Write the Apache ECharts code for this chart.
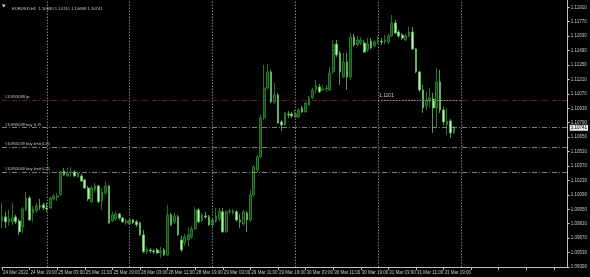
<!DOCTYPE html>
<html><head><meta charset="utf-8">
<script src="https://cdn.jsdelivr.net/npm/echarts@6/dist/echarts.min.js"></script>
<style>html,body{margin:0;padding:0;background:#000;}#c{width:590px;height:277px;}</style>
</head><body><div id="c"></div>
<script>
const titleText = "EURUSD,H1  1.10690 1.10741 1.10688 1.10741";
const tickLabels = ["24 Mar 2022","24 Mar 19:00","25 Mar 03:00","25 Mar 11:00","25 Mar 19:00","28 Mar 03:00","28 Mar 11:00","28 Mar 19:00","29 Mar 03:00","29 Mar 11:00","29 Mar 19:00","30 Mar 03:00","30 Mar 11:00","30 Mar 19:00","31 Mar 03:00","31 Mar 11:00","31 Mar 19:00"];
const priceTicks = [1.09390,1.09530,1.09670,1.09810,1.09950,1.10090,1.10230,1.10370,1.10510,1.10650,1.10790,1.10930,1.11070,1.11210,1.11350,1.11490,1.11630,1.11770,1.11910];
const opens = [1.09837,1.09876,1.09828,1.09828,1.09876,1.09837,1.09779,1.09944,1.10060,1.09915,
1.09934,1.09983,1.09993,1.09963,1.09963,1.10051,1.10070,1.10090,1.10322,1.10274,
1.10303,1.10313,1.10264,1.10274,1.10235,1.10157,1.10022,1.10138,1.10177,1.10031,
1.10109,1.10177,1.09837,1.09857,1.09905,1.09866,1.09818,1.09808,1.09847,1.09828,
1.09818,1.09702,1.09537,1.09556,1.09546,1.09556,1.09527,1.09556,1.09507,1.09896,
1.09828,1.09876,1.09653,1.09624,1.09653,1.09682,1.09760,1.09944,1.09837,1.09886,
1.09876,1.09799,1.09837,1.09857,1.09925,1.09731,1.09925,1.09915,1.09925,1.09847,
1.09808,1.09915,1.09847,1.10090,1.10332,1.10458,1.10837,1.11127,1.11283,1.10992,
1.11060,1.10798,1.10769,1.10875,1.10875,1.10846,1.10846,1.10934,1.10895,1.10963,
1.11030,1.11108,1.11137,1.11108,1.11118,1.11108,1.11283,1.11554,1.11467,1.11234,
1.11380,1.11234,1.11622,1.11545,1.11564,1.11564,1.11496,1.11583,1.11535,1.11574,
1.11583,1.11574,1.11574,1.11632,1.11758,1.11671,1.11641,1.11593,1.11632,1.11671,
1.11506,1.11283,1.11108,1.10953,1.11001,1.11021,1.10934,1.11186,1.10914,1.10769,
1.10807,1.10691];
const closes = [1.09876,1.09828,1.09857,1.09866,1.09828,1.09731,1.09954,1.10060,1.09847,1.09954,
1.09983,1.09973,1.09963,1.09954,1.10060,1.10080,1.10080,1.10313,1.10284,1.10303,
1.10313,1.10274,1.10303,1.10225,1.10157,1.10051,1.10157,1.10177,1.10022,1.10119,
1.10177,1.09818,1.09896,1.09905,1.09866,1.09828,1.09837,1.09847,1.09818,1.09799,
1.09702,1.09537,1.09566,1.09546,1.09537,1.09527,1.09546,1.09507,1.09896,1.09799,
1.09886,1.09702,1.09556,1.09682,1.09702,1.09760,1.09944,1.09828,1.09896,1.09876,
1.09799,1.09847,1.09886,1.09934,1.09731,1.09925,1.09934,1.09934,1.09847,1.09828,
1.09925,1.09847,1.10090,1.10361,1.10458,1.10837,1.11127,1.11283,1.10992,1.11060,
1.10788,1.10769,1.10885,1.10866,1.10856,1.10875,1.10914,1.10895,1.10982,1.11030,
1.11108,1.11147,1.11089,1.11118,1.11127,1.11273,1.11545,1.11448,1.11283,1.11380,
1.11234,1.11622,1.11545,1.11593,1.11593,1.11477,1.11554,1.11515,1.11574,1.11583,
1.11574,1.11593,1.11632,1.11758,1.11661,1.11632,1.11612,1.11632,1.11671,1.11506,
1.11283,1.11108,1.10934,1.11011,1.11030,1.10934,1.11186,1.10914,1.10798,1.10807,
1.10691,1.10741];
const lows = [1.09769,1.09769,1.09789,1.09799,1.09808,1.09702,1.09721,1.09934,1.09837,1.09828,
1.09915,1.09944,1.09944,1.09925,1.09954,1.10031,1.10031,1.10080,1.10274,1.10264,
1.10264,1.10264,1.10254,1.10216,1.10148,1.10031,1.10012,1.10109,1.10012,1.09944,
1.10090,1.09808,1.09828,1.09837,1.09847,1.09818,1.09799,1.09799,1.09808,1.09779,
1.09692,1.09527,1.09517,1.09527,1.09517,1.09517,1.09479,1.09498,1.09498,1.09789,
1.09808,1.09692,1.09537,1.09595,1.09585,1.09663,1.09750,1.09818,1.09828,1.09857,
1.09789,1.09779,1.09818,1.09837,1.09721,1.09721,1.09905,1.09896,1.09828,1.09769,
1.09789,1.09731,1.09828,1.10070,1.10313,1.10448,1.10817,1.11108,1.10982,1.10972,
1.10778,1.10710,1.10759,1.10837,1.10837,1.10837,1.10837,1.10885,1.10885,1.10953,
1.11021,1.11079,1.11079,1.11098,1.11089,1.11098,1.11263,1.11428,1.11157,1.11224,
1.11108,1.11205,1.11525,1.11535,1.11545,1.11467,1.11477,1.11506,1.11525,1.11554,
1.11545,1.11554,1.11554,1.11622,1.11651,1.11612,1.11593,1.11583,1.11622,1.11496,
1.11273,1.11089,1.10885,1.10914,1.10934,1.10691,1.10740,1.10885,1.10769,1.10672,
1.10642,1.10681];
const highs = [1.10012,1.09925,1.09944,1.10012,1.09896,1.09857,1.09973,1.10119,1.10080,1.09983,
1.10012,1.10051,1.10012,1.10012,1.10070,1.10099,1.10109,1.10322,1.10351,1.10351,
1.10361,1.10332,1.10322,1.10293,1.10245,1.10177,1.10177,1.10206,1.10187,1.10157,
1.10225,1.10187,1.09925,1.09925,1.09915,1.09876,1.09857,1.09857,1.09857,1.09847,
1.09828,1.09750,1.09585,1.09575,1.09566,1.09575,1.09585,1.09575,1.09993,1.09915,
1.09915,1.09896,1.09692,1.09711,1.09779,1.09789,1.09973,1.09963,1.09915,1.09925,
1.09896,1.09866,1.09963,1.09963,1.09963,1.09944,1.09954,1.09954,1.09944,1.09905,
1.09944,1.09934,1.10138,1.10381,1.10478,1.10866,1.11351,1.11360,1.11302,1.11176,
1.11079,1.10817,1.10895,1.10904,1.10895,1.10914,1.10934,1.10953,1.10992,1.11050,
1.11127,1.11205,1.11166,1.11157,1.11157,1.11331,1.11593,1.11593,1.11486,1.11467,
1.11467,1.11661,1.11651,1.11632,1.11622,1.11593,1.11612,1.11612,1.11593,1.11632,
1.11612,1.11641,1.11651,1.11836,1.11787,1.11690,1.11661,1.11651,1.11719,1.11719,
1.11515,1.11292,1.11157,1.11089,1.11127,1.11079,1.11321,1.11302,1.10943,1.10934,
1.10827,1.10759];
const orderLevels = [1.11010, 1.10742, 1.10552, 1.10310];
const orderNames = ["#10955088 tp", "#10955038 buy 0.15", "#10955039 buy limit 0.25", "#10955040 buy limit 0.25"];
const tpMarker = {label: "1.1101", value: 1.11010, fromBar: 109, toBar: 133};
const gridBars = [13, 37, 61, 85, 109, 133];
const bidPrice = 1.10741;
const SLOTS = 165;

const categories = Array.from({length: SLOTS}, (_, i) => String(i));
const candleData = opens.map((o, i) => [o, closes[i], lows[i], highs[i]]);
const FONT = 'Liberation Sans';
const TXT = '#c8c8c8';

const chart = echarts.init(document.getElementById('c'), null, {renderer: 'canvas'});
chart.setOption({
  backgroundColor: '#000',
  animation: false,
  title: {text: titleText, left: 7, top: 2, textStyle: {color: TXT, fontSize: 4.2, fontWeight: 'normal', fontFamily: FONT}},
  graphic: [{type: 'polygon', shape: {points: [[2, 4.5], [5.5, 4.5], [3.75, 7.5]]}, style: {fill: '#e0e0e0'}}],
  grid: {left: 0.5, right: 20.5, top: 0, bottom: 10},
  xAxis: {
    type: 'category', data: categories, boundaryGap: false,
    axisLine: {lineStyle: {color: '#c0c0c0', width: 1}},
    axisTick: {show: true, interval: 7, length: 3, lineStyle: {color: '#c0c0c0'}},
    axisLabel: {interval: 7, formatter: (v, i) => tickLabels[i / 8] || '', align: 'left', color: TXT, fontSize: 4.5, margin: 3, fontFamily: FONT, padding: [0, 0, 0, 1]},
    splitLine: {show: false}
  },
  yAxis: {
    type: 'value', position: 'right', min: 1.09390, max: 1.11981, offset: 0,
    axisLine: {show: true, lineStyle: {color: '#c0c0c0', width: 1}},
    axisTick: {show: true, length: 2, customValues: priceTicks, lineStyle: {color: '#c0c0c0'}},
    axisLabel: {customValues: priceTicks, formatter: v => v.toFixed(5), color: TXT, fontSize: 4.5, margin: 3, fontFamily: FONT},
    splitLine: {show: false}
  },
  series: [{
    type: 'candlestick',
    data: candleData,
    barWidth: 2.2,
    itemStyle: {color: '#124512', borderColor: '#2f8f2f', color0: '#b9efb0', borderColor0: '#5fc25f', borderWidth: 0.8},
    markLine: {
      symbol: 'none', silent: true, animation: false, precision: 5,
      data: [
        ...gridBars.map(b => ({xAxis: String(b), lineStyle: {color: '#9a9a9a', type: [1.5, 1.5], width: 0.8}, label: {show: false}})),
        ...orderLevels.map((v, i) => ({
          yAxis: v,
          lineStyle: {color: i === 0 ? '#7a2a2a' : '#8ea88e', type: [5, 2, 1, 2], width: 0.8},
          label: {show: true, position: 'insideStartTop', formatter: orderNames[i], color: TXT, fontSize: 4, fontFamily: FONT, distance: [3, 1]}
        })),
        [{coord: [String(tpMarker.fromBar), tpMarker.value], lineStyle: {color: '#b0b0b0', type: [1.5, 1.5], width: 0.8},
          label: {show: true, position: 'insideStartTop', formatter: tpMarker.label, color: TXT, fontSize: 5, fontFamily: FONT, distance: [1, 2]}},
         {coord: [String(tpMarker.toBar), tpMarker.value]}],
        {yAxis: bidPrice, lineStyle: {color: 'rgba(0,0,0,0)', width: 0.1}, label: {show: true, position: 'end', formatter: bidPrice.toFixed(5), color: '#000', backgroundColor: '#e8e8e8', fontSize: 4.5, fontFamily: FONT, padding: [1, 1, 0, 1], distance: 2}}
      ]
    }
  }]
});
</script></body></html>
